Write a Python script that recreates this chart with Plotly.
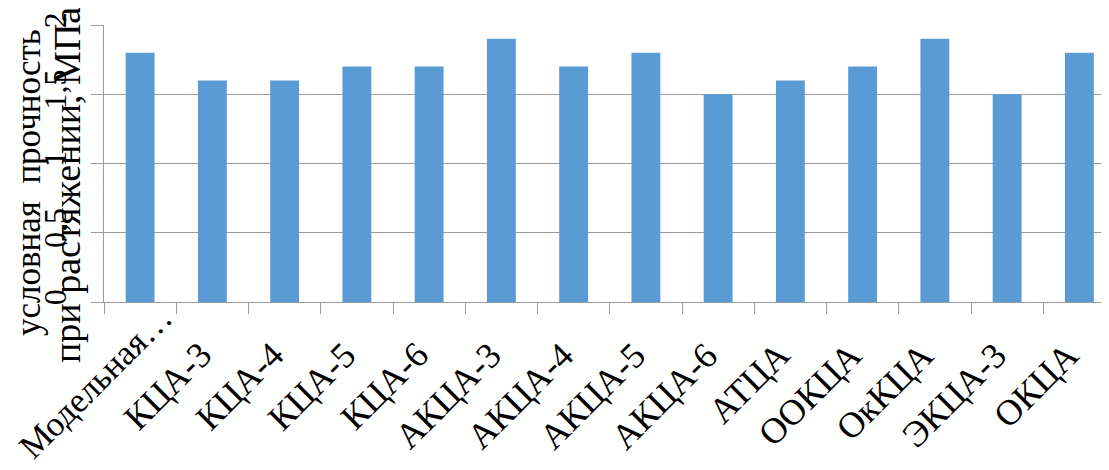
import plotly.graph_objects as go

categories = ["Модельная…", "КЦА-3", "КЦА-4", "КЦА-5", "КЦА-6", "АКЦА-3", "АКЦА-4",
              "АКЦА-5", "АКЦА-6", "АТЦА", "ООКЦА", "ОкКЦА", "ЭКЦА-3", "ОКЦА"]
values = [1.8, 1.6, 1.6, 1.7, 1.7, 1.9, 1.7, 1.8, 1.5, 1.6, 1.7, 1.9, 1.5, 1.8]
y_ticks = [0, 0.5, 1, 1.5, 2]
y_title_lines = ["условная  прочность", "при растяжении, МПа"]

FONT = "Liberation Serif, Times New Roman, serif"
GRID = "#9a9a9a"

fig = go.Figure(go.Bar(x=categories, y=values, marker=dict(color="#5B9BD5", line=dict(width=0))))

# the page body has an 8px margin; compensate so the plot sits where the reference has it
OFF = 8
W, H = 1109, 470
PL, PT, PB, PR = 104 - OFF, 25 - OFF, 302 - OFF, 1109 - OFF
fig.update_layout(
    width=W, height=H,
    margin=dict(l=PL, r=W - PR, t=PT, b=H - PB, pad=0, autoexpand=False),
    paper_bgcolor="white", plot_bgcolor="white",
    font=dict(family=FONT, color="black"),
    separators=", ",
    bargap=0.6,
    showlegend=False,
)
fig.update_xaxes(
    type="category",
    automargin=False,
    range=[-0.5, 13.41],
    tickson="boundaries",
    ticks="outside", ticklen=11, tickcolor=GRID, tickwidth=1,
    showline=True, linecolor=GRID, linewidth=1,
    showgrid=False,
    showticklabels=False,
)
fig.update_yaxes(
    automargin=False,
    range=[0, 2],
    tickvals=y_ticks,
    ticks="outside", ticklen=12, tickcolor=GRID, tickwidth=1,
    showline=True, linecolor=GRID, linewidth=1,
    showgrid=True, gridcolor=GRID, gridwidth=1,
    zeroline=False,
    tickangle=-90,
    ticklabelstandoff=12,
    tickfont=dict(size=32, family=FONT),
)

# category labels, rotated -45 deg (Excel style: end of text at the category centre,
# truncated labels centred in their slot)
for c in categories:
    if c.endswith("…"):
        fig.add_annotation(text=c, x=c, y=0, xref="x", yref="y", textangle=-45,
                           xanchor="center", yanchor="middle", xshift=-45, yshift=-80,
                           showarrow=False, font=dict(size=35, family=FONT, color="black"))
    else:
        fig.add_annotation(text=c, x=c, y=0, xref="x", yref="y", textangle=-45,
                           xanchor="right", yanchor="top", xshift=10, yshift=-30,
                           showarrow=False, font=dict(size=36, family=FONT, color="black"))

pw = PR - PL
ph = PB - PT
for txt, cx, cy, fs in zip(y_title_lines, [28, 67], [183, 185], [35, 38]):
    fig.add_annotation(
        text=txt, textangle=-90,
        xref="paper", yref="paper",
        x=(cx - OFF - PL) / pw, y=(PB - (cy - OFF)) / ph,
        xanchor="center", yanchor="middle",
        showarrow=False, align="center",
        font=dict(size=fs, family=FONT, color="black"),
    )
fig.write_html("out.html")
